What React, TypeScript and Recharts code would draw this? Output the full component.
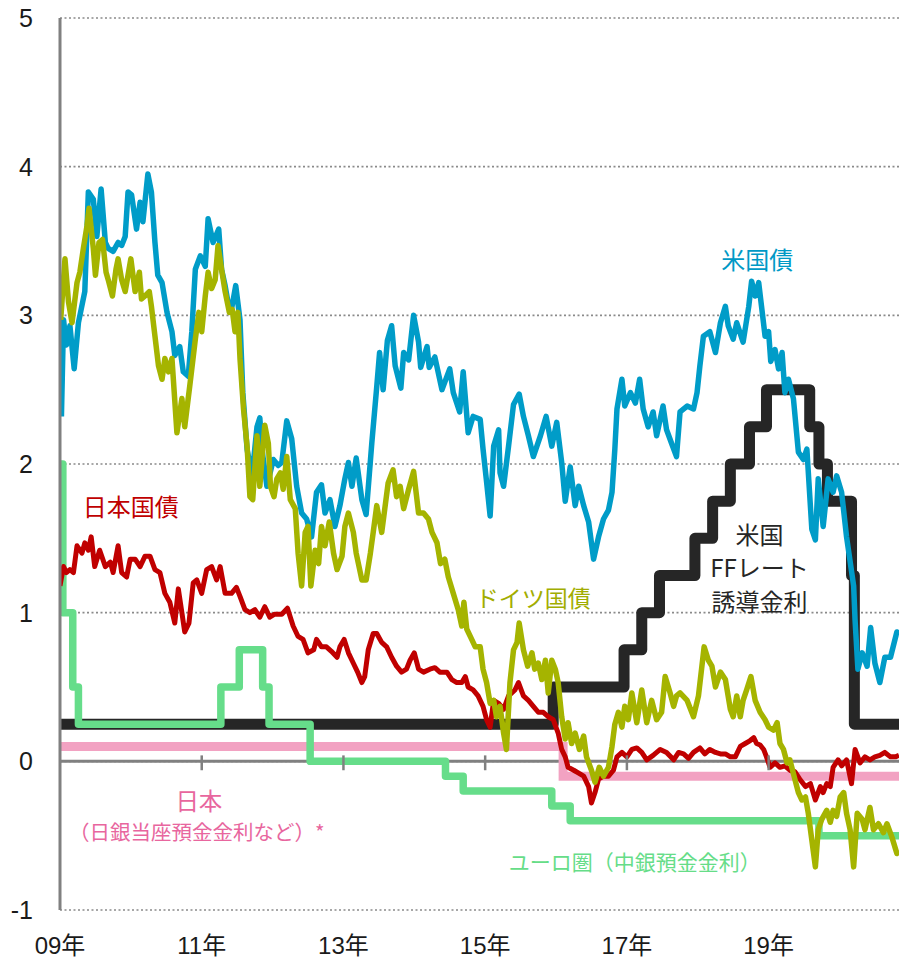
import React from 'react';
import { LineChart, Line, XAxis, YAxis, CartesianGrid, ReferenceLine, ReferenceDot } from 'recharts';

// decimal year, yield (%)
const usTreasury: [number, number][] = [
  [2009.02, 2.32], [2009.05, 2.97], [2009.09, 2.8], [2009.14, 2.93], [2009.2, 2.64], [2009.26, 2.95], [2009.35, 3.16],
  [2009.4, 3.83], [2009.47, 3.78], [2009.52, 3.53], [2009.58, 3.85], [2009.64, 3.49], [2009.68, 3.45], [2009.75, 3.43],
  [2009.82, 3.49], [2009.87, 3.47], [2009.92, 3.53], [2009.96, 3.83], [2010.01, 3.81], [2010.08, 3.58], [2010.13, 3.76],
  [2010.17, 3.63], [2010.24, 3.95], [2010.29, 3.83], [2010.34, 3.49], [2010.38, 3.27], [2010.44, 3.22], [2010.51, 3.02],
  [2010.58, 2.89], [2010.62, 2.73], [2010.69, 2.79], [2010.74, 2.62], [2010.81, 2.59], [2010.86, 2.89], [2010.91, 3.31],
  [2010.98, 3.4], [2011.05, 3.33], [2011.09, 3.65], [2011.16, 3.49], [2011.24, 3.58], [2011.28, 3.31], [2011.33, 3.2],
  [2011.37, 3.09], [2011.42, 3.04], [2011.48, 3.2], [2011.54, 2.97], [2011.58, 2.48], [2011.64, 2.1], [2011.71, 1.92],
  [2011.78, 2.25], [2011.82, 2.31], [2011.85, 2.1], [2011.92, 1.85], [2012.01, 2.03], [2012.08, 1.99], [2012.13, 2.01],
  [2012.2, 2.29], [2012.27, 2.17], [2012.34, 1.85], [2012.41, 1.67], [2012.48, 1.63], [2012.55, 1.51], [2012.62, 1.81],
  [2012.69, 1.86], [2012.74, 1.67], [2012.81, 1.76], [2012.88, 1.58], [2012.95, 1.72], [2013.02, 1.9], [2013.07, 2.01],
  [2013.12, 1.85], [2013.18, 2.04], [2013.26, 1.76], [2013.32, 1.66], [2013.4, 2.14], [2013.47, 2.52], [2013.51, 2.75],
  [2013.56, 2.5], [2013.62, 2.83], [2013.68, 2.93], [2013.73, 2.66], [2013.81, 2.51], [2013.85, 2.75], [2013.92, 2.7],
  [2013.99, 3.0], [2014.06, 2.82], [2014.09, 2.65], [2014.18, 2.79], [2014.21, 2.65], [2014.29, 2.72], [2014.39, 2.5],
  [2014.5, 2.64], [2014.55, 2.48], [2014.64, 2.35], [2014.69, 2.62], [2014.76, 2.21], [2014.83, 2.32], [2014.93, 2.3],
  [2014.97, 2.1], [2015.02, 1.88], [2015.07, 1.65], [2015.12, 2.12], [2015.19, 2.23], [2015.21, 1.94], [2015.26, 1.85],
  [2015.33, 2.12], [2015.4, 2.4], [2015.48, 2.47], [2015.54, 2.32], [2015.61, 2.19], [2015.68, 2.05], [2015.78, 2.19],
  [2015.86, 2.32], [2015.94, 2.12], [2016.01, 2.28], [2016.08, 2.01], [2016.13, 1.75], [2016.2, 1.98], [2016.27, 1.72],
  [2016.32, 1.85], [2016.39, 1.72], [2016.46, 1.61], [2016.53, 1.36], [2016.6, 1.51], [2016.67, 1.63], [2016.74, 1.69],
  [2016.79, 1.81], [2016.83, 2.1], [2016.86, 2.37], [2016.93, 2.57], [2016.97, 2.39], [2017.05, 2.48], [2017.12, 2.41],
  [2017.18, 2.57], [2017.23, 2.37], [2017.3, 2.25], [2017.37, 2.35], [2017.42, 2.19], [2017.51, 2.39], [2017.56, 2.23],
  [2017.63, 2.14], [2017.7, 2.05], [2017.75, 2.35], [2017.85, 2.39], [2017.94, 2.37], [2017.99, 2.48], [2018.03, 2.66],
  [2018.08, 2.86], [2018.17, 2.89], [2018.25, 2.75], [2018.32, 2.95], [2018.39, 3.06], [2018.43, 2.93], [2018.5, 2.84],
  [2018.55, 2.95], [2018.64, 2.82], [2018.72, 3.06], [2018.76, 3.23], [2018.81, 3.13], [2018.86, 3.22], [2018.9, 3.06],
  [2018.95, 2.86], [2019.0, 2.89], [2019.03, 2.69], [2019.09, 2.77], [2019.14, 2.64], [2019.19, 2.75], [2019.23, 2.48],
  [2019.28, 2.57], [2019.35, 2.44], [2019.42, 2.08], [2019.49, 2.03], [2019.54, 2.1], [2019.61, 1.56], [2019.66, 1.49],
  [2019.7, 1.9], [2019.77, 1.58], [2019.84, 1.9], [2019.91, 1.81], [2019.96, 1.92], [2020.03, 1.81], [2020.1, 1.51],
  [2020.2, 1.18], [2020.22, 0.95], [2020.26, 0.62], [2020.32, 0.73], [2020.39, 0.64], [2020.44, 0.9], [2020.5, 0.66],
  [2020.57, 0.53], [2020.64, 0.7], [2020.72, 0.7], [2020.81, 0.87], [2020.84, 0.85],
];

const germanBund: [number, number][] = [
  [2009.01, 2.97], [2009.07, 3.38], [2009.12, 3.09], [2009.17, 2.95], [2009.24, 3.22], [2009.28, 3.29], [2009.33, 3.45],
  [2009.38, 3.6], [2009.41, 3.72], [2009.47, 3.45], [2009.5, 3.27], [2009.55, 3.49], [2009.6, 3.51], [2009.65, 3.29],
  [2009.68, 3.24], [2009.74, 3.13], [2009.79, 3.31], [2009.82, 3.38], [2009.87, 3.24], [2009.92, 3.16], [2010.0, 3.38],
  [2010.06, 3.16], [2010.12, 3.29], [2010.15, 3.11], [2010.2, 3.13], [2010.26, 3.16], [2010.29, 3.06], [2010.34, 2.86],
  [2010.39, 2.66], [2010.44, 2.57], [2010.48, 2.71], [2010.53, 2.62], [2010.58, 2.71], [2010.65, 2.21], [2010.72, 2.44],
  [2010.76, 2.25], [2010.83, 2.52], [2010.91, 2.84], [2010.96, 3.02], [2011.0, 2.89], [2011.05, 3.13], [2011.09, 3.29],
  [2011.14, 3.18], [2011.19, 3.24], [2011.23, 3.47], [2011.28, 3.31], [2011.33, 3.16], [2011.39, 3.02], [2011.43, 3.04],
  [2011.47, 2.89], [2011.51, 3.02], [2011.54, 2.71], [2011.59, 2.37], [2011.64, 2.12], [2011.68, 1.78], [2011.72, 1.76],
  [2011.78, 2.19], [2011.82, 1.85], [2011.89, 2.26], [2011.94, 2.14], [2011.97, 1.85], [2012.02, 1.78], [2012.06, 1.9],
  [2012.11, 1.94], [2012.15, 1.83], [2012.2, 2.05], [2012.25, 1.76], [2012.32, 1.7], [2012.36, 1.4], [2012.41, 1.18],
  [2012.46, 1.54], [2012.5, 1.58], [2012.54, 1.18], [2012.6, 1.42], [2012.65, 1.33], [2012.69, 1.58], [2012.74, 1.45],
  [2012.8, 1.61], [2012.86, 1.4], [2012.91, 1.29], [2012.98, 1.38], [2013.02, 1.58], [2013.07, 1.67], [2013.14, 1.54],
  [2013.18, 1.4], [2013.26, 1.22], [2013.32, 1.22], [2013.38, 1.4], [2013.42, 1.54], [2013.47, 1.72], [2013.54, 1.54],
  [2013.57, 1.65], [2013.63, 1.87], [2013.7, 1.96], [2013.75, 1.78], [2013.8, 1.85], [2013.85, 1.7], [2013.92, 1.83],
  [2013.99, 1.95], [2014.06, 1.67], [2014.13, 1.67], [2014.2, 1.63], [2014.25, 1.54], [2014.32, 1.47], [2014.37, 1.33],
  [2014.43, 1.36], [2014.48, 1.24], [2014.55, 1.13], [2014.62, 1.02], [2014.67, 0.91], [2014.7, 1.07], [2014.74, 0.89],
  [2014.81, 0.82], [2014.86, 0.77], [2014.93, 0.77], [2014.97, 0.62], [2015.02, 0.53], [2015.07, 0.39], [2015.12, 0.41],
  [2015.16, 0.3], [2015.21, 0.37], [2015.26, 0.19], [2015.3, 0.08], [2015.35, 0.53], [2015.4, 0.75], [2015.45, 0.8],
  [2015.48, 0.93], [2015.54, 0.75], [2015.6, 0.64], [2015.66, 0.73], [2015.7, 0.62], [2015.75, 0.66], [2015.8, 0.55],
  [2015.85, 0.68], [2015.89, 0.46], [2015.94, 0.68], [2015.99, 0.62], [2016.03, 0.53], [2016.08, 0.3], [2016.13, 0.15],
  [2016.17, 0.26], [2016.22, 0.12], [2016.27, 0.19], [2016.33, 0.08], [2016.39, 0.17], [2016.43, 0.03], [2016.5, -0.06],
  [2016.55, -0.14], [2016.61, -0.04], [2016.67, -0.1], [2016.74, -0.04], [2016.79, 0.1], [2016.83, 0.25], [2016.88, 0.33],
  [2016.93, 0.23], [2016.97, 0.37], [2017.02, 0.28], [2017.07, 0.46], [2017.14, 0.26], [2017.21, 0.48], [2017.28, 0.26],
  [2017.35, 0.41], [2017.42, 0.28], [2017.49, 0.33], [2017.54, 0.57], [2017.61, 0.46], [2017.66, 0.37], [2017.7, 0.44],
  [2017.75, 0.46], [2017.85, 0.41], [2017.94, 0.3], [2018.01, 0.44], [2018.09, 0.77], [2018.15, 0.68], [2018.2, 0.64],
  [2018.25, 0.5], [2018.32, 0.6], [2018.39, 0.55], [2018.46, 0.35], [2018.5, 0.3], [2018.55, 0.44], [2018.6, 0.3],
  [2018.64, 0.41], [2018.69, 0.48], [2018.75, 0.57], [2018.81, 0.41], [2018.88, 0.33], [2018.95, 0.28], [2019.0, 0.23],
  [2019.07, 0.21], [2019.12, 0.26], [2019.16, 0.12], [2019.21, 0.08], [2019.26, -0.01], [2019.3, 0.01], [2019.37, -0.12],
  [2019.42, -0.21], [2019.47, -0.26], [2019.52, -0.24], [2019.56, -0.35], [2019.61, -0.53], [2019.66, -0.71], [2019.7, -0.46],
  [2019.75, -0.39], [2019.82, -0.33], [2019.87, -0.41], [2019.91, -0.33], [2019.96, -0.37], [2020.01, -0.24], [2020.06, -0.21],
  [2020.1, -0.35], [2020.15, -0.46], [2020.2, -0.71], [2020.25, -0.35], [2020.32, -0.39], [2020.36, -0.46], [2020.43, -0.31],
  [2020.48, -0.46], [2020.55, -0.42], [2020.62, -0.48], [2020.67, -0.42], [2020.74, -0.51], [2020.81, -0.62], [2020.84, -0.6],
];

const japanJGB: [number, number][] = [
  [2009.0, 1.18], [2009.05, 1.31], [2009.09, 1.27], [2009.14, 1.29], [2009.19, 1.27], [2009.24, 1.45], [2009.31, 1.4],
  [2009.35, 1.47], [2009.4, 1.42], [2009.44, 1.51], [2009.49, 1.31], [2009.56, 1.42], [2009.64, 1.31], [2009.71, 1.34],
  [2009.75, 1.27], [2009.82, 1.45], [2009.87, 1.27], [2009.94, 1.24], [2009.99, 1.36], [2010.06, 1.36], [2010.13, 1.31],
  [2010.2, 1.38], [2010.27, 1.38], [2010.34, 1.29], [2010.41, 1.27], [2010.48, 1.13], [2010.55, 1.07], [2010.6, 0.97],
  [2010.62, 0.93], [2010.67, 1.16], [2010.72, 1.0], [2010.76, 0.87], [2010.82, 0.93], [2010.88, 1.2], [2010.93, 1.22],
  [2011.0, 1.13], [2011.07, 1.29], [2011.14, 1.31], [2011.21, 1.22], [2011.26, 1.31], [2011.33, 1.13], [2011.42, 1.13],
  [2011.49, 1.17], [2011.54, 1.11], [2011.61, 1.02], [2011.68, 1.0], [2011.75, 1.02], [2011.82, 0.97], [2011.89, 1.04],
  [2011.96, 0.97], [2012.03, 0.99], [2012.13, 0.99], [2012.21, 1.03], [2012.29, 0.91], [2012.36, 0.84], [2012.43, 0.82],
  [2012.5, 0.73], [2012.58, 0.75], [2012.62, 0.82], [2012.69, 0.77], [2012.76, 0.77], [2012.83, 0.74], [2012.91, 0.7],
  [2012.95, 0.77], [2013.01, 0.82], [2013.07, 0.73], [2013.14, 0.66], [2013.2, 0.6], [2013.26, 0.53], [2013.3, 0.57],
  [2013.35, 0.75], [2013.42, 0.86], [2013.47, 0.86], [2013.54, 0.8], [2013.61, 0.77], [2013.68, 0.7], [2013.75, 0.64],
  [2013.82, 0.6], [2013.89, 0.62], [2013.94, 0.68], [2014.0, 0.73], [2014.06, 0.62], [2014.13, 0.6], [2014.22, 0.62],
  [2014.29, 0.63], [2014.36, 0.6], [2014.46, 0.6], [2014.53, 0.55], [2014.6, 0.53], [2014.67, 0.53], [2014.72, 0.57],
  [2014.76, 0.5], [2014.83, 0.48], [2014.9, 0.44], [2014.97, 0.37], [2015.02, 0.28], [2015.07, 0.23], [2015.12, 0.41],
  [2015.19, 0.39], [2015.26, 0.35], [2015.33, 0.44], [2015.42, 0.48], [2015.47, 0.53], [2015.54, 0.44], [2015.61, 0.41],
  [2015.68, 0.37], [2015.75, 0.33], [2015.82, 0.33], [2015.89, 0.3], [2015.96, 0.28], [2016.03, 0.19], [2016.08, 0.08],
  [2016.13, 0.03], [2016.17, -0.04], [2016.25, -0.06], [2016.32, -0.08], [2016.39, -0.1], [2016.46, -0.17], [2016.5, -0.28],
  [2016.55, -0.21], [2016.6, -0.12], [2016.67, -0.1], [2016.74, -0.1], [2016.81, -0.06], [2016.86, 0.03], [2016.93, 0.06],
  [2017.0, 0.03], [2017.07, 0.08], [2017.14, 0.09], [2017.21, 0.06], [2017.28, 0.01], [2017.37, 0.04], [2017.47, 0.08],
  [2017.56, 0.06], [2017.66, 0.01], [2017.73, 0.06], [2017.8, 0.05], [2017.87, 0.02], [2017.94, 0.06], [2018.03, 0.09],
  [2018.1, 0.05], [2018.17, 0.08], [2018.25, 0.06], [2018.32, 0.05], [2018.39, 0.05], [2018.46, 0.03], [2018.53, 0.03],
  [2018.6, 0.1], [2018.67, 0.12], [2018.74, 0.14], [2018.79, 0.16], [2018.83, 0.12], [2018.88, 0.11], [2018.93, 0.08],
  [2018.97, 0.03], [2019.02, -0.04], [2019.09, -0.01], [2019.16, -0.04], [2019.23, -0.03], [2019.3, -0.06], [2019.37, -0.07],
  [2019.44, -0.12], [2019.52, -0.17], [2019.59, -0.15], [2019.66, -0.26], [2019.73, -0.17], [2019.77, -0.21], [2019.82, -0.15],
  [2019.87, -0.17], [2019.91, -0.04], [2019.98, 0.01], [2020.03, -0.03], [2020.1, 0.01], [2020.17, -0.15], [2020.22, 0.08],
  [2020.29, -0.01], [2020.36, 0.03], [2020.43, 0.01], [2020.5, 0.03], [2020.57, 0.04], [2020.64, 0.06], [2020.72, 0.03],
  [2020.79, 0.03], [2020.84, 0.04],
];

// policy rates (step series): effective date, rate
const usFedFunds: [number, number][] = [
  [2009.0, 0.25], [2015.96, 0.5], [2016.96, 0.75], [2017.21, 1.0], [2017.46, 1.25], [2017.96, 1.5], [2018.21, 1.75],
  [2018.46, 2.0], [2018.73, 2.25], [2018.97, 2.5], [2019.58, 2.25], [2019.71, 2.0], [2019.83, 1.75], [2020.17, 1.25],
  [2020.21, 0.25], [2020.84, 0.25],
];
const bojRate: [number, number][] = [[2009.0, 0.1], [2016.1, -0.1], [2020.84, -0.1]];
const ecbDeposit: [number, number][] = [
  [2009.0, 2.0], [2009.04, 1.0], [2009.18, 0.5], [2009.26, 0.25], [2011.27, 0.5], [2011.53, 0.75], [2011.86, 0.5],
  [2011.95, 0.25], [2012.53, 0.0], [2014.44, -0.1], [2014.69, -0.2], [2015.94, -0.3], [2016.2, -0.4], [2019.71, -0.5],
  [2020.84, -0.5],
];
const zeroLine: [number, number][] = [[2009.0, 0], [2020.84, 0]];

const xTicks = [2009, 2011, 2013, 2015, 2017, 2019];
const yTicks = [-1, 0, 1, 2, 3, 4, 5];
const zeroTickMarks = [2011, 2013, 2015, 2017, 2019];

// annotations: [decimal year, value, text, color, fontSize]
const annotations: [number, number, string, string, number][] = [
  [2018.84, 3.37, '米国債', '#0099C6', 24],
  [2010.0, 1.71, '日本国債', '#C00000', 24],
  [2015.68, 1.09, 'ドイツ国債', '#A2AD00', 23],
  [2018.87, 1.52, '米国', '#262626', 24],
  [2018.87, 1.3, 'FFレート', '#262626', 24],
  [2018.87, 1.07, '誘導金利', '#262626', 24],
  [2010.96, -0.27, '日本', '#E8669E', 23.5],
  [2010.93, -0.48, '（日銀当座預金金利など）*', '#E8669E', 20.5],
  [2017.11, -0.68, 'ユーロ圏（中銀預金金利）', '#66DD88', 21],
];

const toRows = (arr: [number, number][]) => arr.map(([t, v]) => ({ t, v }));

const NUM_FONT = '"Liberation Sans", Arial, "Noto Sans CJK JP", sans-serif';
const JP_FONT = '"Noto Sans CJK JP", "Noto Sans CJK SC", sans-serif';

export default function App() {
  return (
    <div style={{ position: 'absolute', left: 0, top: 0, background: '#fff' }}>
      <LineChart width={899} height={959} margin={{ top: 18, right: 0, bottom: 0, left: 0 }}>
        <CartesianGrid vertical={false} stroke="#8a8a8a" strokeWidth={1.6} strokeDasharray="2 2.5" />
        <XAxis
          dataKey="t"
          type="number"
          domain={[2009, 2020.84]}
          allowDataOverflow
          ticks={xTicks}
          tickFormatter={(t: number) => String(t).slice(2) + '年'}
          axisLine={false}
          tickLine={false}
          tickSize={0}
          tickMargin={27}
          height={49}
          interval={0}
          tick={{ fontSize: 24, fill: '#1a1a1a', fontFamily: NUM_FONT }}
        />
        <YAxis
          dataKey="v"
          type="number"
          domain={[-1, 5]}
          ticks={yTicks}
          interval={0}
          width={60}
          axisLine={{ stroke: '#808080', strokeWidth: 3 }}
          tickLine={false}
          tickSize={0}
          tickMargin={27}
          tick={{ fontSize: 25, fill: '#1a1a1a', fontFamily: NUM_FONT }}
        />
        <Line data={toRows(zeroLine)} dataKey="v" stroke="#808080" strokeWidth={3} dot={false} activeDot={false} isAnimationActive={false} />
        <Line data={toRows(usFedFunds)} dataKey="v" type="stepAfter" stroke="#262626" strokeWidth={11} strokeLinejoin="round" dot={false} activeDot={false} isAnimationActive={false} />
        <Line data={toRows(bojRate)} dataKey="v" type="stepAfter" stroke="#F2A2C2" strokeWidth={9} dot={false} activeDot={false} isAnimationActive={false} />
        <Line data={toRows(ecbDeposit)} dataKey="v" type="stepAfter" stroke="#66DD8A" strokeWidth={7.5} strokeLinejoin="round" dot={false} activeDot={false} isAnimationActive={false} />
        <Line data={toRows(usTreasury)} dataKey="v" stroke="#009CC8" strokeWidth={5.5} strokeLinejoin="round" dot={false} activeDot={false} isAnimationActive={false} />
        <Line data={toRows(japanJGB)} dataKey="v" stroke="#C00000" strokeWidth={5} strokeLinejoin="round" dot={false} activeDot={false} isAnimationActive={false} />
        <Line data={toRows(germanBund)} dataKey="v" stroke="#A5B400" strokeWidth={5.5} strokeLinejoin="round" dot={false} activeDot={false} isAnimationActive={false} />
        {zeroTickMarks.map((x) => (
          <ReferenceLine key={x} segment={[{ x, y: 0.04 }, { x, y: -0.06 }]} stroke="#808080" strokeWidth={2.5} />
        ))}
        {annotations.map(([x, y, text, color, size], i) => (
          <ReferenceDot
            key={i}
            x={x}
            y={y}
            r={0}
            fill="none"
            stroke="none"
            label={{ value: text, position: 'center', fill: color, fontSize: size, fontFamily: JP_FONT }}
          />
        ))}
      </LineChart>
    </div>
  );
}
